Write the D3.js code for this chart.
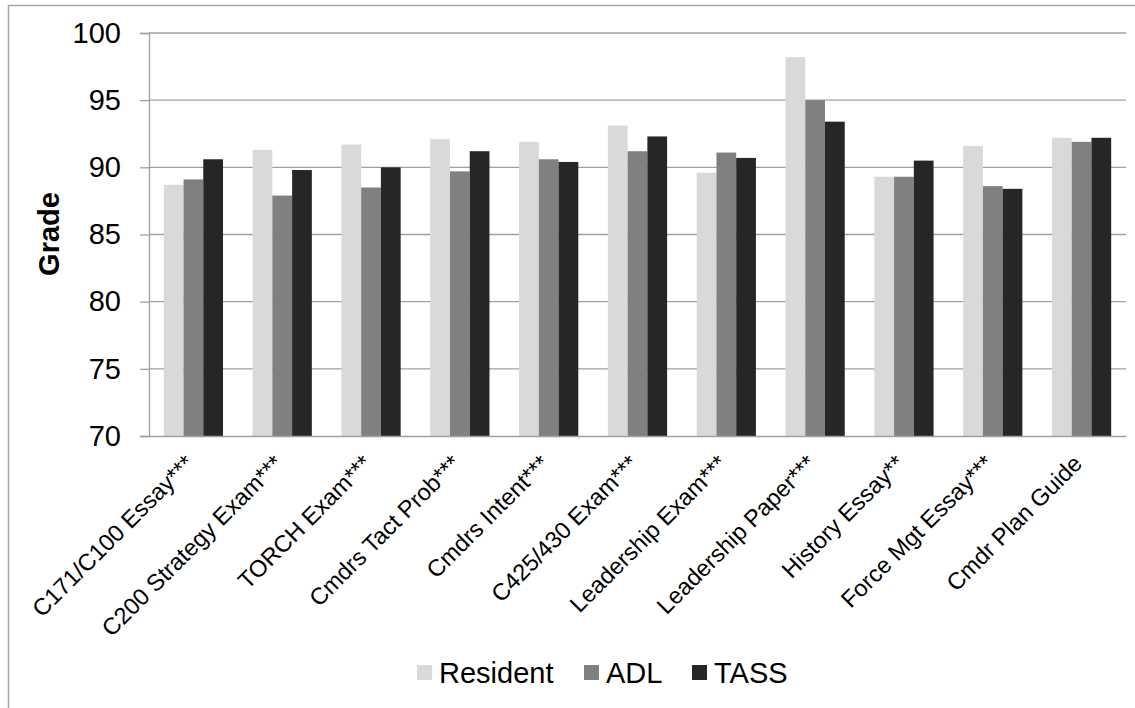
<!DOCTYPE html>
<html>
<head>
<meta charset="utf-8">
<script src="https://cdn.jsdelivr.net/npm/d3@7"></script>
<style>
  html, body { margin: 0; padding: 0; background: #fff; }
  svg { display: block; }
  text { font-family: "Liberation Sans", Arial, sans-serif; fill: #000; }
</style>
</head>
<body>
<svg id="chart" width="1135" height="708"></svg>
<script>
const categories = ["C171/C100 Essay***", "C200 Strategy Exam***", "TORCH Exam***", "Cmdrs Tact Prob***",
  "Cmdrs Intent***", "C425/430 Exam***", "Leadership Exam***", "Leadership Paper***",
  "History Essay**", "Force Mgt Essay***", "Cmdr Plan Guide"];
const seriesNames = ["Resident", "ADL", "TASS"];
const resident = [88.7, 91.3, 91.7, 92.1, 91.9, 93.1, 89.6, 98.2, 89.3, 91.6, 92.2];
const adl      = [89.1, 87.9, 88.5, 89.7, 90.6, 91.2, 91.1, 95.0, 89.3, 88.6, 91.9];
const tass     = [90.6, 89.8, 90.0, 91.2, 90.4, 92.3, 90.7, 93.4, 90.5, 88.4, 92.2];
const yTicks   = [70, 75, 80, 85, 90, 95, 100];
const colors   = ["#d9d9d9", "#808080", "#262626"];

const values = [resident, adl, tass];
const svg = d3.select("#chart");

// chart frame
svg.append("rect").attr("x", 8.5).attr("y", 5.5).attr("width", 1300).attr("height", 800)
  .attr("fill", "none").attr("stroke", "#a6a6a6").attr("stroke-width", 1.5);

const pLeft = 149, pRight = 1126, pTop = 33, pBottom = 436;
const x = d3.scaleBand().domain(categories).range([pLeft, pRight]).paddingInner(1/3).paddingOuter(1/6);
const xs = d3.scaleBand().domain(seriesNames).range([0, x.bandwidth()]);
const y = d3.scaleLinear().domain([70, 100]).range([pBottom, pTop]);

// gridlines
svg.append("g").selectAll("line").data(yTicks.filter(t => t > 70)).join("line")
  .attr("x1", pLeft).attr("x2", pRight)
  .attr("y1", d => y(d)).attr("y2", d => y(d))
  .attr("stroke", "#a0a0a0").attr("stroke-width", 1.3);

// bars
const rows = categories.map((c, i) => ({ c, vals: seriesNames.map((s, k) => ({ s, v: values[k][i], k })) }));
svg.append("g").selectAll("g").data(rows).join("g")
  .attr("transform", d => `translate(${x(d.c)},0)`)
  .selectAll("rect").data(d => d.vals).join("rect")
  .attr("x", d => xs(d.s)).attr("width", xs.bandwidth())
  .attr("y", d => y(d.v)).attr("height", d => y(70) - y(d.v))
  .attr("fill", d => colors[d.k]);

// y axis
const yAxis = svg.append("g").attr("transform", `translate(${pLeft},0)`)
  .call(d3.axisLeft(y).tickValues(yTicks).tickSize(9).tickPadding(19).tickFormat(d3.format("d")));
yAxis.select(".domain").attr("stroke", "#a0a0a0").attr("stroke-width", 1.3);
yAxis.selectAll(".tick line").attr("stroke", "#a0a0a0").attr("stroke-width", 1.3);
yAxis.selectAll("text").style("font-size", "29px").style("font-family", "Liberation Sans, Arial, sans-serif").attr("fill", "#000");

// x axis
const xAxis = svg.append("g").attr("transform", `translate(0,${pBottom})`)
  .call(d3.axisBottom(x).tickSize(0).tickSizeOuter(0));
xAxis.select(".domain").attr("stroke", "#a0a0a0").attr("stroke-width", 1.3);
xAxis.selectAll("text")
  .attr("text-anchor", "end").attr("y", 0).attr("dy", 0)
  .attr("transform", "translate(2,29) rotate(-45)")
  .style("font-size", "23.5px").style("font-family", "Liberation Sans, Arial, sans-serif").attr("fill", "#000");

// y title
svg.append("text").attr("transform", "translate(59,234) rotate(-90)")
  .attr("text-anchor", "middle").style("font-size", "29px").style("font-weight", "bold").text("Grade");

// legend
const legendX = [417, 584, 692];
const lg = svg.append("g").selectAll("g").data(seriesNames).join("g")
  .attr("transform", (d, i) => `translate(${legendX[i]},665)`);
lg.append("rect").attr("width", 15).attr("height", 15).attr("fill", (d, i) => colors[i]);
lg.append("text").attr("x", 22).attr("y", 17.5).style("font-size", "29px").text(d => d);
</script>
</body>
</html>
